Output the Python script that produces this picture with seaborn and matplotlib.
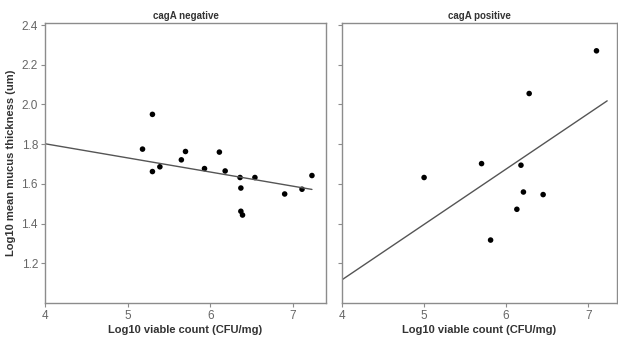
import matplotlib
matplotlib.use("Agg")
import matplotlib.pyplot as plt
import seaborn as sns

# cagA negative
neg_x = [5.18, 5.30, 5.30, 5.39, 5.65, 5.70, 5.93, 6.11, 6.18, 6.36, 6.37, 6.37, 6.39, 6.54, 6.90, 7.11, 7.23]
neg_y = [1.775, 1.95, 1.662, 1.686, 1.721, 1.763, 1.677, 1.760, 1.665, 1.632, 1.579, 1.462, 1.443, 1.632, 1.549, 1.573, 1.642]

# cagA positive
pos_x = [5.00, 5.70, 5.81, 6.13, 6.18, 6.21, 6.28, 6.45, 7.10]
pos_y = [1.632, 1.702, 1.317, 1.472, 1.694, 1.559, 2.055, 1.546, 2.270]

# fit lines as drawn in the figure (ends)
fit_x = [4.0, 7.23]
neg_fit_y = [1.802, 1.572]
pos_fit_y = [1.117, 2.018]

titles = ["cagA negative", "cagA positive"]
x_ticks = [4, 5, 6, 7]
y_ticks = [1.2, 1.4, 1.6, 1.8, 2.0, 2.2, 2.4]

sns.set_theme(style="white")
plt.rcParams["font.family"] = ["Liberation Sans", "DejaVu Sans"]

fig = plt.figure(figsize=(6.18, 3.42), dpi=100)
ax1 = fig.add_axes([0.0728, 0.114, 0.4547, 0.8187])
ax2 = fig.add_axes([0.5534, 0.114, 0.445, 0.8187])

frame = "#8c8c8c"

for ax, xs, ys, fy, title, xmax in [(ax1, neg_x, neg_y, neg_fit_y, titles[0], 7.4),
                                     (ax2, pos_x, pos_y, pos_fit_y, titles[1], 7.35)]:
    sns.scatterplot(x=xs, y=ys, ax=ax, color="black", s=16, edgecolor="none")
    sns.lineplot(x=fit_x, y=fy, ax=ax, color="#555555", linewidth=1.0)
    ax.set_xlim(4, xmax)
    ax.set_ylim(1.0, 2.41)
    ax.set_xticks(x_ticks)
    ax.set_yticks(y_ticks)
    ax.tick_params(axis="both", direction="out", length=3, width=0.8,
                   bottom=True, left=True, color=frame, labelsize=8.5,
                   labelcolor="#666666", pad=2)
    for sp in ax.spines.values():
        sp.set_color(frame)
        sp.set_linewidth(1.0)
    ax.set_title(title, fontsize=7, fontweight="bold", color="#333333", pad=3)
    ax.set_xlabel("Log10 viable count (CFU/mg)", fontsize=8, fontweight="bold",
                  color="#333333", labelpad=2)

ax1.set_yticklabels([f"{v:.1f}" for v in y_ticks])
ax1.set_ylabel("Log10 mean mucus thickness (um)", fontsize=8, fontweight="bold",
               color="#333333", labelpad=4)
ax2.set_yticklabels([])

fig.savefig("out.png", dpi=100)
